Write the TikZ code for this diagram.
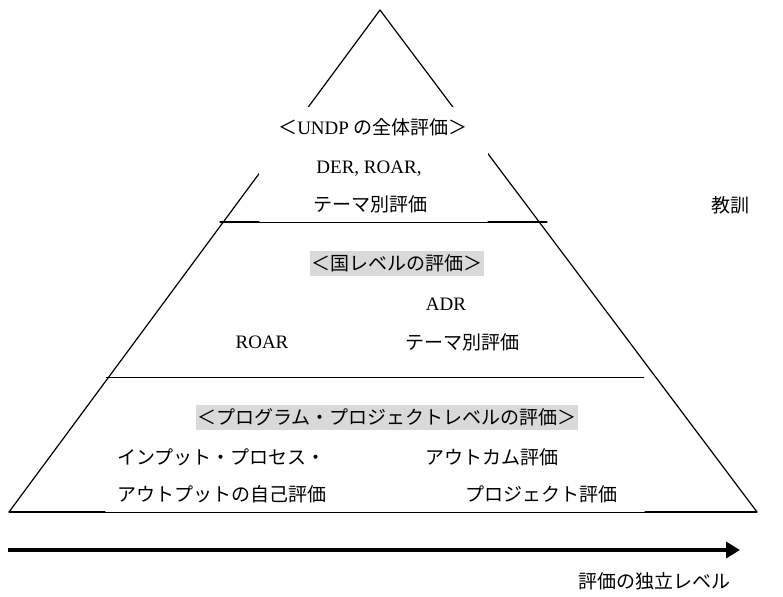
\documentclass[tikz,border=0pt]{standalone}
\usepackage{fontspec}
\setmainfont{Liberation Serif}
\newfontfamily\jp{Noto Sans CJK JP}
\usetikzlibrary{arrows.meta}
\definecolor{hl}{RGB}{217,217,217}
\begin{document}
\begin{tikzpicture}[x=1pt,y=-1pt,
  txt/.style={anchor=base, inner sep=0pt, font=\fontsize{19}{19}\selectfont\jp},
  hlbox/.style={txt, fill=hl, inner xsep=1.5pt, inner ysep=3pt, text height=16.3pt, text depth=2.7pt},
  edgeline/.style={line width=1.2pt, line cap=round},
  thinline/.style={line width=0.7pt},
  axisline/.style={line width=3.5pt, -{Triangle[length=14pt,width=16pt]}}]
\useasboundingbox (0,0) rectangle (783,596);
\fill[white] (0,0) rectangle (783,596);
% pyramid
\coordinate (apex) at (380,10);
\coordinate (bl) at (9,512);
\coordinate (br) at (757,512);
\draw[edgeline] (apex) -- (bl);
\draw[edgeline] (apex) -- (br);
% white text box of the top level
\fill[white] (259,107) rectangle (488,221.5);
% level lines
\coordinate (l1a) at (220,222); \coordinate (l1b) at (259,222);
\coordinate (l1c) at (488,222); \coordinate (l1d) at (547,222);
\draw[edgeline] (l1a) -- (l1b);
\draw[thinline] (l1b) -- (l1c);
\draw[edgeline] (l1c) -- (l1d);
\coordinate (l2a) at (106,377); \coordinate (l2b) at (644,377);
\draw[line width=1pt] (l2a) -- (l2b);
\coordinate (l3b) at (105,512); \coordinate (l3c) at (645,512);
\draw[edgeline] (bl) -- (l3b);
\draw[thinline] (l3b) -- (l3c);
\draw[edgeline] (l3c) -- (br);
% top level
\node[txt] (t1) at (373,135) {＜{\rmfamily UNDP }の全体評価＞};
\node[txt] (t2) at (369,173) {\rmfamily DER, ROAR,};
\node[txt] (t3) at (370,211) {テーマ別評価};
% middle level
\node[hlbox] (m1) at (396.5,270.3) {＜国レベルの評価＞};
\node[txt] (m2) at (446,310) {\rmfamily ADR};
\node[txt] (m3) at (262,348) {\rmfamily ROAR};
\node[txt] (m4) at (462,349) {テーマ別評価};
% bottom level
\node[hlbox] (b1) at (387,424.3) {＜プログラム・プロジェクトレベルの評価＞};
\node[txt, anchor=base west] (b2) at (117,464) {インプット・プロセス・};
\node[txt, anchor=base west] (b3) at (117,501) {アウトプットの自己評価};
\node[txt, anchor=base west] (b4) at (425,464) {アウトカム評価};
\node[txt, anchor=base west] (b5) at (465,501) {プロジェクト評価};
% side label
\node[txt] (lesson) at (730,212) {教訓};
% axis
\coordinate (axS) at (8,550);
\coordinate (axE) at (740,550);
\draw[axisline] (axS) -- (axE);
\node[txt] (axlab) at (654,588) {評価の独立レベル};
\end{tikzpicture}
\end{document}
